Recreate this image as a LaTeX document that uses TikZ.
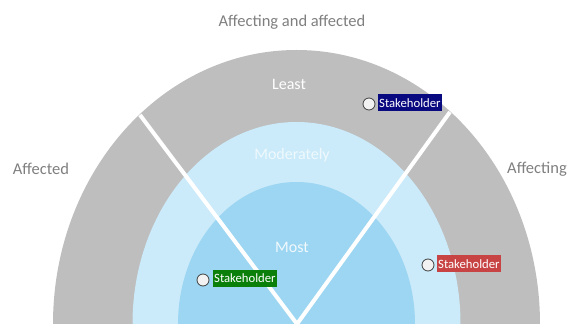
\documentclass[tikz,border=0pt]{standalone}
\usepackage{fontspec}
\setmainfont{Carlito}
\definecolor{ringgray}{HTML}{BEBEBE}
\definecolor{ringlight}{HTML}{CBEBFA}
\definecolor{ringinner}{HTML}{9DD6F2}
\definecolor{labgray}{HTML}{7F7F7F}
\definecolor{navybox}{HTML}{0A0A80}
\definecolor{greenbox}{HTML}{0A800A}
\definecolor{redbox}{HTML}{C84444}
\tikzset{
  sidelabel/.style={text=labgray, font=\fontsize{16.5}{19}\selectfont},
  ringlabel/.style={text=white, font=\fontsize{16}{19}\selectfont},
  divider/.style={white, line width=4pt},
  dot/.style={circle, draw=black!75, fill=white!95!black, line width=0.8pt, minimum size=12pt, inner sep=0pt},
  tagbox/.style={anchor=west, inner sep=1pt, minimum height=17pt, text=white, font=\fontsize{12.7}{15}\selectfont}
}
\begin{document}
\begin{tikzpicture}[x=1pt,y=1pt]
\useasboundingbox (0,0) rectangle (574,324);
\fill[ringgray] (53,0) arc[start angle=180,end angle=0,x radius=243.5,y radius=274] -- cycle;
\fill[ringlight] (132.5,0) arc[start angle=180,end angle=0,x radius=164,y radius=202] -- cycle;
\fill[ringinner] (178,0) arc[start angle=180,end angle=0,x radius=118.5,y radius=142] -- cycle;
\coordinate (apex) at (297,0);
\coordinate (lend) at (140,209);
\coordinate (rend) at (450,212);
\draw[divider] (apex) -- (lend);
\draw[divider] (apex) -- (rend);
\node[sidelabel] (top) at (292,302) {Affecting and affected};
\node[sidelabel] (affected) at (41,155) {Affected};
\node[sidelabel] (affecting) at (537,155) {Affecting};
\node[ringlabel] (least) at (289,240) {Least};
\node[ringlabel, text=white!70!ringlight] (moderately) at (292,169) {Moderately};
\node[ringlabel, text=white!85!ringinner] (most) at (292,77) {Most};
\node[dot] (d1) at (369,220) {};
\node[tagbox, fill=navybox] (s1) at (378,221) {Stakeholder};
\node[dot] (d2) at (203,44) {};
\node[tagbox, fill=greenbox] (s2) at (213,45.5) {Stakeholder};
\node[dot] (d3) at (428,59) {};
\node[tagbox, fill=redbox] (s3) at (437,60) {Stakeholder};
\end{tikzpicture}
\end{document}
